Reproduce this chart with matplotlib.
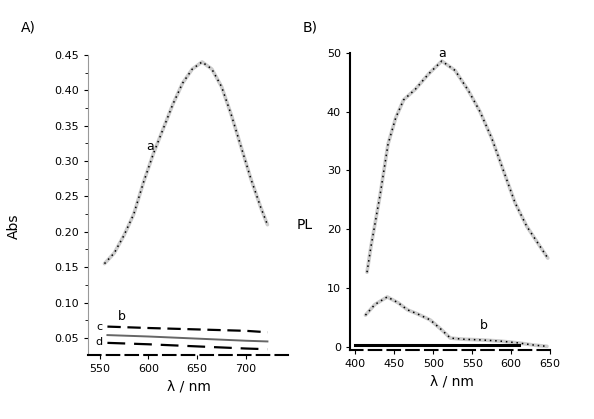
import matplotlib.pyplot as plt
from matplotlib.ticker import MultipleLocator

# ---- panel A: absorbance ----
wl_a = [555, 565, 575, 585, 595, 605, 615, 625, 635, 645, 655, 665, 675, 685, 695, 705, 715, 722]
abs_a = [0.155, 0.17, 0.195, 0.225, 0.27, 0.31, 0.345, 0.38, 0.41, 0.43, 0.44, 0.43, 0.405,
         0.365, 0.32, 0.275, 0.235, 0.21]
wl_bcd = [558, 600, 650, 700, 722]
abs_b = [0.066, 0.064, 0.062, 0.060, 0.058]
abs_c = [0.054, 0.052, 0.049, 0.046, 0.045]
abs_d = [0.043, 0.041, 0.038, 0.035, 0.034]

# ---- panel B: emission ----
wl_pa = [415, 420, 426, 432, 442, 452, 462, 477, 494, 511, 528, 545, 560, 575, 590, 605, 620, 635, 647]
int_a = [12.7, 17, 21.5, 26, 34.5, 39, 42, 43.8, 46.4, 48.6, 47, 43.6, 40, 35.5, 30, 24.5, 20.5, 17.5, 15.1]
wl_pb = [413, 425, 441, 455, 467, 480, 496, 510, 522, 540, 560, 585, 608, 630, 646]
int_b = [5.4, 7.2, 8.5, 7.5, 6.3, 5.6, 4.6, 3.0, 1.5, 1.3, 1.2, 1.0, 0.7, 0.3, 0.1]
wl_pc = [400, 610]
int_c = [0.3, 0.3]


def dotted_curve(ax, x, y):
    ax.plot(x, y, color='0.8', lw=2.6, solid_capstyle='round')
    ax.plot(x, y, color='black', lw=1.1, ls=(0, (1, 2.5)))


fig = plt.figure(figsize=(5.94, 4.19), dpi=100)
axA = fig.add_axes([0.148, 0.153, 0.340, 0.716])
axB = fig.add_axes([0.589, 0.165, 0.345, 0.709])

# panel A
dotted_curve(axA, wl_a, abs_a)
axA.plot(wl_bcd, abs_b, color='black', lw=1.6, ls=(0, (6, 3)))
axA.plot(wl_bcd, abs_c, color='0.4', lw=1.4)
axA.plot(wl_bcd, abs_d, color='black', lw=1.6, ls=(0, (8, 4)))
axA.set_xlim(538, 745)
axA.set_ylim(0.026, 0.45)
axA.set_xticks([550, 600, 650, 700])
axA.yaxis.set_major_locator(MultipleLocator(0.05))
axA.yaxis.set_minor_locator(MultipleLocator(0.025))
axA.yaxis.set_major_formatter(lambda v, p: f"{v:.2f}")
axA.set_xlabel("λ / nm", fontsize=10)
axA.set_ylabel("Abs", fontsize=10)
axA.yaxis.set_label_coords(-0.33, 0.43)
axA.text(598, 0.316, "a", fontsize=9)
axA.text(573, 0.080, "b", fontsize=9, ha='center', va='center')
axA.text(550, 0.065, "c", fontsize=8, ha='center', va='center')
axA.text(549, 0.044, "d", fontsize=8, ha='center', va='center')
for s in ['top', 'right']:
    axA.spines[s].set_visible(False)
axA.spines['left'].set_color('0.6')
axA.spines['bottom'].set_linestyle((0, (6, 3)))
axA.spines['bottom'].set_linewidth(1.5)

# panel B
dotted_curve(axB, wl_pa, int_a)
dotted_curve(axB, wl_pb, int_b)
axB.plot(wl_pc, int_c, color='black', lw=2.2)
axB.set_xlim(393, 656)
axB.set_ylim(-0.5, 50)
axB.set_xticks([400, 450, 500, 550, 600, 650])
axB.set_yticks([0, 10, 20, 30, 40, 50])
axB.set_xlabel("λ / nm", fontsize=10)
axB.set_ylabel("PL", fontsize=10, rotation=0, va='center')
axB.yaxis.set_label_coords(-0.22, 0.42)
axB.text(507, 49.3, "a", fontsize=9)
axB.text(560, 3.0, "b", fontsize=9)
for s in ['top', 'right']:
    axB.spines[s].set_visible(False)
axB.spines['left'].set_linewidth(1.5)
axB.spines['bottom'].set_linestyle((0, (6, 3)))
axB.spines['bottom'].set_linewidth(1.5)

for ax in (axA, axB):
    ax.tick_params(labelsize=8, length=3)
    ax.tick_params(which='minor', length=2)

fig.text(0.035, 0.925, "A)", fontsize=10)
fig.text(0.510, 0.925, "B)", fontsize=10)

fig.savefig("out.png", dpi=100)
